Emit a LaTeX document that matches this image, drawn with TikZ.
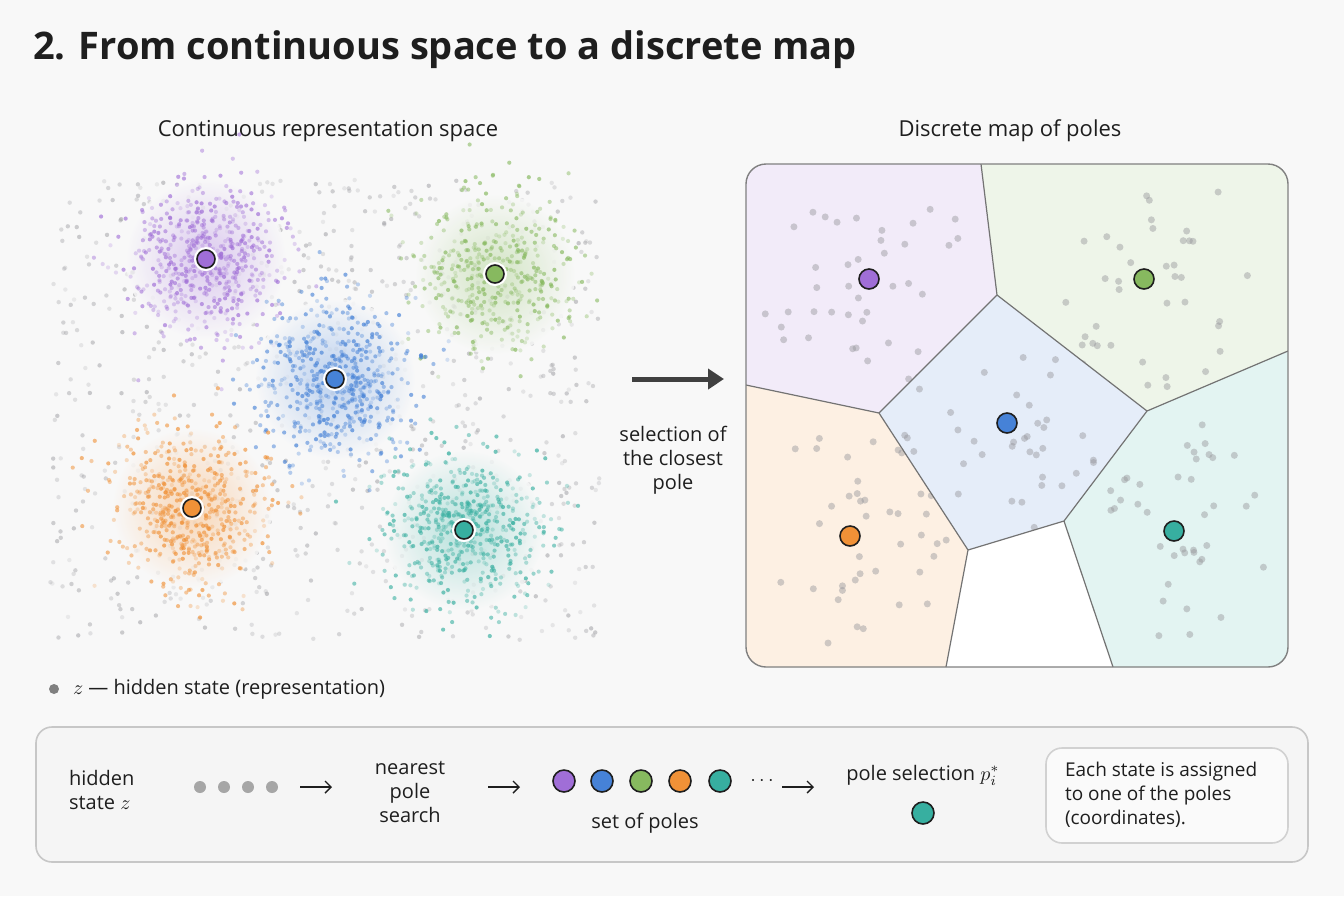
\documentclass[tikz,border=0pt]{standalone}
\usepackage{fontspec}
\setmainfont{Open Sans}
\usetikzlibrary{arrows.meta,positioning}

\definecolor{bgc}{RGB}{248,248,248}
\definecolor{pviolet}{RGB}{160,110,215}
\definecolor{pgreen}{RGB}{135,185,95}
\definecolor{pblue}{RGB}{70,130,215}
\definecolor{porange}{RGB}{240,145,55}
\definecolor{pteal}{RGB}{55,175,160}
\definecolor{dotgray}{RGB}{150,150,155}
\definecolor{inkc}{RGB}{30,30,30}

\tikzset{
  pole/.style={circle,draw=inkc,line width=.8pt,minimum size=10pt,inner sep=0pt,fill=#1},
  bigpole/.style={pole=#1,minimum size=9pt,preaction={draw=white,line width=3pt}},
  dot/.style={circle,fill=dotgray,inner sep=0pt,minimum size=4pt},
  lbl/.style={font=\fontsize{10}{12}\selectfont,text=inkc,align=center},
  flow/.style={-{Straight Barb[length=3pt]},line width=.7pt,inkc}
}

\newcommand{\cloud}[4]{%
  \shade[inner color=#3!45,outer color=bgc,opacity=.8] (#1,#2) circle (80);
  \foreach \k in {1,...,#4}{
    \pgfmathsetmacro\ang{360*rnd}
    \pgfmathsetmacro\rad{40*sqrt(-2*ln(0.002+0.998*rnd))}
    \pgfmathsetmacro\op{0.2+0.5*rnd}
    \fill[#3,opacity=\op] ({#1+\rad*cos(\ang)},{#2+\rad*sin(\ang)}) circle (2.1);
  }}

\newcommand{\cell}[4]{%
  \begin{scope}
    \clip #1;
    \fill[#2!14] #1;
    \foreach \k in {1,...,40}{
      \pgfmathsetmacro\ang{360*rnd}
      \pgfmathsetmacro\rad{20+95*rnd}
      \fill[dotgray,opacity=.45] ({#3+\rad*cos(\ang)},{#4+\rad*sin(\ang)}) circle (3.5);
    }
  \end{scope}}

\begin{document}
\begin{tikzpicture}[x=0.5pt,y=-0.5pt]
  \pgfmathsetseed{11}
  \fill[bgc] (0,0) rectangle (1344,896);
  \useasboundingbox (0,0) rectangle (1344,896);

  \node[anchor=west,font=\fontsize{19}{22}\selectfont\bfseries,text=inkc] (title) at (26,50) {2. From continuous space to a discrete map};
  \node[lbl,font=\fontsize{11}{13}\selectfont] (leftcap) at (328,131) {Continuous representation space};
  \node[lbl,font=\fontsize{11}{13}\selectfont] (rightcap) at (1010,131) {Discrete map of poles};

  \foreach \k in {1,...,800}{
    \pgfmathsetmacro\px{50+550*rnd}
    \pgfmathsetmacro\py{180+460*rnd}
    \pgfmathsetmacro\op{0.15+0.35*rnd}
    \fill[dotgray,opacity=\op] (\px,\py) circle (2.2);
  }
  \cloud{206}{259}{pviolet}{550}
  \cloud{495}{274}{pgreen}{420}
  \cloud{335}{379}{pblue}{550}
  \cloud{192}{508}{porange}{550}
  \cloud{464}{530}{pteal}{550}

  \node[bigpole=pviolet] (lv) at (206,259) {};
  \node[bigpole=pgreen] (lg) at (495,274) {};
  \node[bigpole=pblue] (lb) at (335,379) {};
  \node[bigpole=porange] (lo) at (192,508) {};
  \node[bigpole=pteal] (lt) at (464,530) {};

  \coordinate (arA) at (632,379);
  \coordinate (arB) at (724,379);
  \draw[-{Triangle[length=8pt,width=10pt]},line width=2.5pt,black!75] (arA) -- (arB);
  \node[lbl] (arlbl) at (673,460) {selection of\\the closest\\pole};

  \begin{scope}
    \clip[rounded corners=10pt] (746,164) rectangle (1288,667);
    \fill[white] (746,164) rectangle (1288,667);
    \cell{(746,164) -- (981,164) -- (997,295) -- (879,413) -- (746,385) -- cycle}{pviolet}{869}{279}
    \cell{(981,164) -- (1288,164) -- (1288,351) -- (1147,411) -- (997,295) -- cycle}{pgreen}{1144}{279}
    \cell{(997,295) -- (1147,411) -- (1064,521) -- (968,550) -- (879,413) -- cycle}{pblue}{1007}{423}
    \cell{(746,385) -- (879,413) -- (968,550) -- (946,667) -- (746,667) -- cycle}{porange}{850}{536}
    \cell{(1147,411) -- (1288,351) -- (1288,667) -- (1113,667) -- (1064,521) -- cycle}{pteal}{1174}{531}
    \draw[black!55,line width=.6pt] (981,164) -- (997,295) -- (879,413) -- (746,385)
      (997,295) -- (1147,411) -- (1288,351) (1147,411) -- (1064,521) -- (1113,667)
      (1064,521) -- (968,550) -- (879,413) (968,550) -- (946,667);
  \end{scope}
  \draw[rounded corners=10pt,black!50,line width=.7pt] (746,164) rectangle (1288,667);

  \node[pole=pviolet] (rv) at (869,279) {};
  \node[pole=pgreen] (rg) at (1144,279) {};
  \node[pole=pblue] (rb) at (1007,423) {};
  \node[pole=porange] (ro) at (850,536) {};
  \node[pole=pteal] (rt) at (1174,531) {};

  \node[dot,minimum size=5pt,fill=black!50] (legdot) at (54,689) {};
  \node[lbl,anchor=west] (legtxt) at (66,689) {$z$ --- hidden state (representation)};

  \draw[rounded corners=8pt,fill=black!4,draw=black!22,line width=.8pt] (36,727) rectangle (1308,862);
  \node[lbl,anchor=west,align=left] (hz) at (62,790) {hidden\\state $z$};
  \foreach \i/\x in {1/200,2/224,3/248,4/272}
    \node[dot,minimum size=6pt,fill=black!35] (zd\i) at (\x,787) {};
  \coordinate (a1s) at (300,787);
  \coordinate (a1e) at (332,787);
  \draw[flow] (a1s) -- (a1e);
  \node[lbl] (nps) at (410,792) {nearest\\pole\\search};
  \coordinate (a2s) at (488,787);
  \coordinate (a2e) at (520,787);
  \draw[flow] (a2s) -- (a2e);
  \foreach \i/\x/\c in {1/564/pviolet,2/602/pblue,3/641/pgreen,4/680/porange,5/720/pteal}
    \node[pole=\c,minimum size=11pt] (sp\i) at (\x,781) {};
  \node[lbl] (ell) at (762,781) {$\cdots$};
  \coordinate (a3s) at (782,787);
  \coordinate (a3e) at (814,787);
  \draw[flow] (a3s) -- (a3e);
  \node[lbl] (setl) at (645,823) {set of poles};
  \node[lbl] (psel) at (923,775) {pole selection $p_i^*$};
  \node[pole=pteal,minimum size=11pt] (pstar) at (923,813) {};
  \draw[rounded corners=8pt,fill=black!2,draw=black!18,line width=.8pt] (1046,748) rectangle (1288,843);
  \node[lbl,anchor=west,align=left,font=\fontsize{9.5}{12}\selectfont] (note) at (1058,795) {Each state is assigned\\to one of the poles\\(coordinates).};
\end{tikzpicture}
\end{document}
